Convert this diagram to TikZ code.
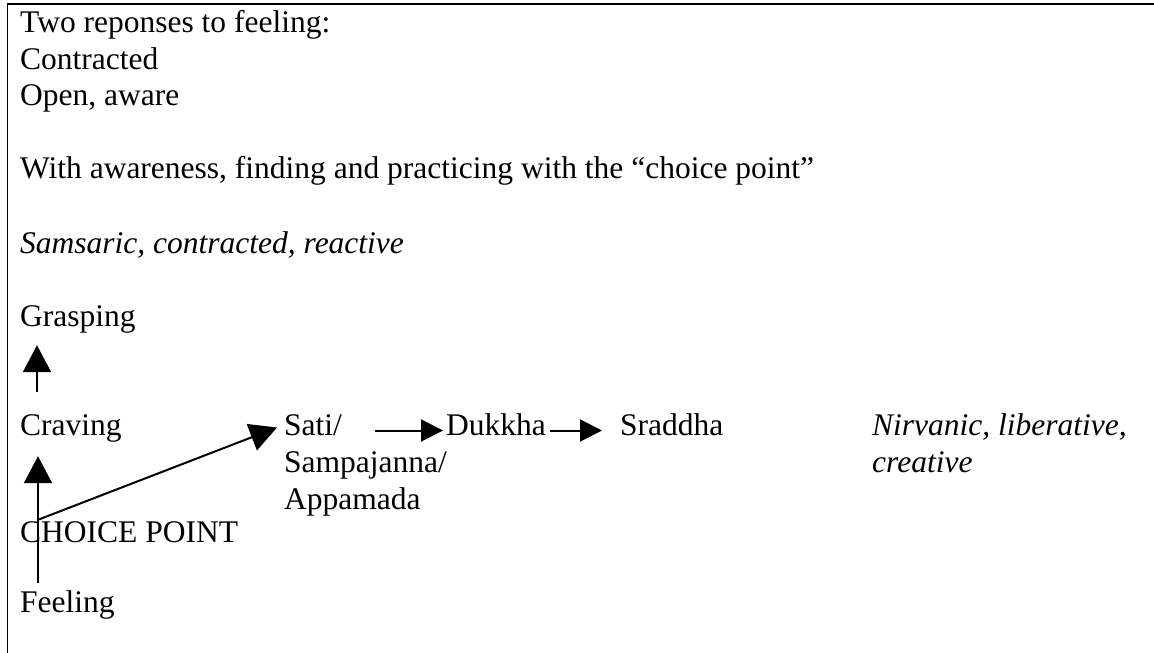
\documentclass[tikz,border=0pt]{standalone}
\usepackage{fontspec}
\setmainfont{Liberation Serif}
\usetikzlibrary{positioning,arrows.meta}
\tikzset{
  txt/.style={anchor=base west, inner sep=0pt, text height=22bp, text depth=7bp},
  bigarr/.style={line width=2bp, -{Triangle[length=27bp,width=28bp]}},
  smallarr/.style={line width=2bp, -{Triangle[length=22bp,width=22bp]}},
}
\begin{document}
\begin{tikzpicture}[x=1bp,y=1bp,font=\fontsize{31.5bp}{36.6bp}\selectfont]
\useasboundingbox (0,0) rectangle (1154,-653);
%% frame
\draw[line width=1.5bp] (7.5,-653) -- (7.5,-4) -- (1154,-4);
%% heading lines
\node[txt] (head) at (20,-33) {Two reponses to feeling:};
\node[txt] (contr) at (20,-70) {Contracted};
\node[txt] (open) at (20,-106) {Open, aware};
\node[txt] (with) at (20,-179) {With awareness, finding and practicing with the “choice point”};
\node[txt] (sams) at (20,-253) {\itshape Samsaric, contracted, reactive};
%% left column
\node[txt] (grasp) at (20,-326) {Grasping};
\node[txt] (crav) at (20,-435) {Craving};
\node[txt] (choice) at (20,-542) {CHOICE POINT};
\node[txt] (feel) at (20,-612) {Feeling};
%% right part
\node[txt] (sati) at (284,-435) {Sati/};
\node[txt, below right=7.6bp and 0bp of sati.south west] (sampa) {Sampajanna/};
\node[txt, below right=7.6bp and 0bp of sampa.south west] (appa) {Appamada};
\node[txt] (dukkha) at (446,-435) {Dukkha};
\node[txt] (srad) at (620,-435) {Sraddha};
\node[txt] (nirv) at (872,-435) {\itshape Nirvanic, liberative,};
\node[txt, below right=7.6bp and 0bp of nirv.south west] (creat) {\itshape creative};
% arrows
\draw[bigarr] ([shift={(17,21)}]crav.north west) -- ([shift={(17,-12)}]grasp.south west);
\draw[bigarr] ([shift={(18,7)}]feel.north west) -- ([shift={(18,-14)}]crav.south west);
\draw[bigarr] ([shift={(18,0)}]choice.north west) -- ([shift={(-7,0)}]sati.west);
\draw[smallarr] ([shift={(33,-3)}]sati.east) -- ([shift={(-3,-3)}]dukkha.west);
\draw[smallarr] ([shift={(4,-3)}]dukkha.east) -- ([shift={(-18,-3)}]srad.west);
\end{tikzpicture}
\end{document}
